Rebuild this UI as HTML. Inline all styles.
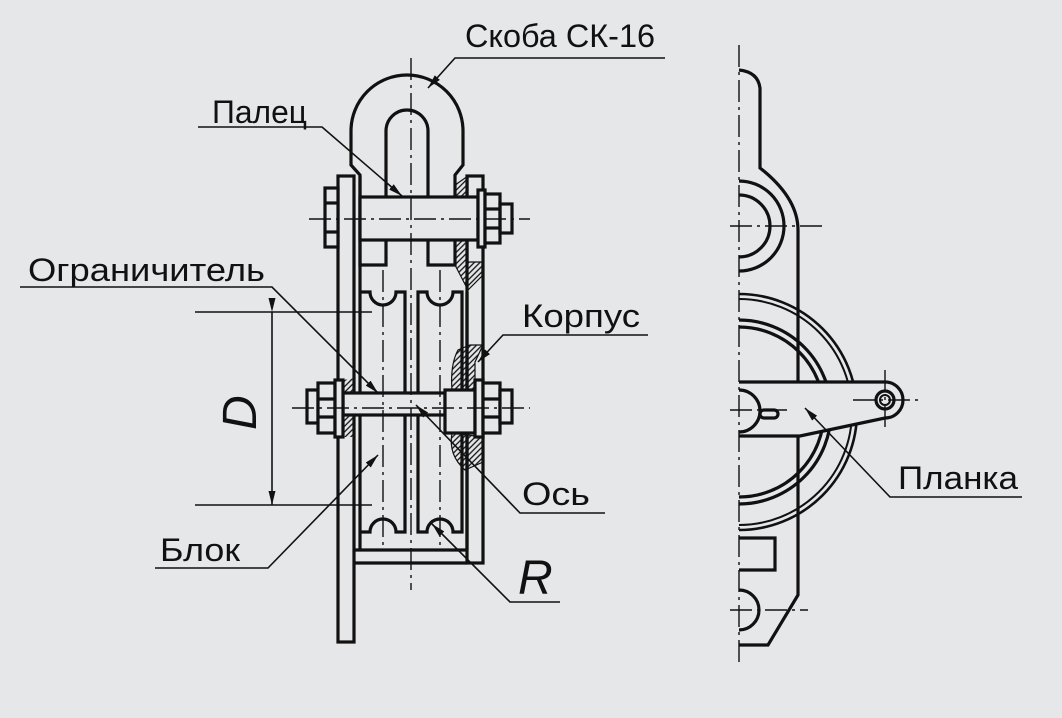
<!DOCTYPE html>
<html><head><meta charset="utf-8"><style>
html,body{margin:0;padding:0;background:#e6e7e9}
svg{display:block}
text{font-family:"Liberation Sans","DejaVu Sans",sans-serif;fill:#111}
</style></head><body>
<svg width="1062" height="718" viewBox="0 0 1062 718" xmlns="http://www.w3.org/2000/svg">
<defs>
<pattern id="h" width="4" height="4" patternUnits="userSpaceOnUse" patternTransform="rotate(45)">
<rect width="4" height="4" fill="#e6e7e9"/><line x1="1" y1="0" x2="1" y2="4" stroke="#111" stroke-width="1.3"/></pattern>
<marker id="a" viewBox="0 0 14 7" refX="14" refY="3.5" markerWidth="14" markerHeight="7" orient="auto" markerUnits="userSpaceOnUse"><path d="M0,0L14,3.5L0,7z" fill="#111"/></marker>
</defs>
<rect width="1062" height="718" fill="#e6e7e9"/>
<g fill="none" stroke="#111" stroke-width="3.2" stroke-linejoin="miter">
<!-- hatched -->
<path d="M455,185 L468,176 L468,262 L482,262 L482,276 L468,290 L455,265 Z" fill="url(#h)" stroke="#111" stroke-width="1.2"/>
<path d="M458,350 Q450,365 452,390 L475,390 L475,362 L483,345 L470,345 Z" fill="url(#h)" stroke="#111" stroke-width="1.2"/>
<path d="M452,433 Q448,455 465,470 L483,462 L483,437 Z" fill="url(#h)" stroke="#111" stroke-width="1.2"/>
<path d="M343,380 L355,378 L355,437 L343,437 Z" fill="url(#h)" stroke="none"/>
<!-- shackle -->
<path d="M351,165 L351,131 A56,56 0 0 1 463,131 L463,165 L455,175 L455,265 L428,265 L428,131 A21,21 0 0 0 386,131 L386,265 L360,265 L360,175 Z" fill="#e6e7e9"/>
<!-- plates -->
<rect x="338" y="176" width="16" height="466"/>
<line x1="360" y1="176" x2="360" y2="550"/>
<rect x="467" y="176" width="16" height="387"/>
<path d="M354,550 L467,550 M354,563 L467,563"/>
<!-- pin -->
<rect x="360" y="197" width="118" height="43" fill="#e6e7e9"/>
<rect x="325" y="188" width="13" height="59" fill="#e6e7e9"/>
<line x1="325" y1="203" x2="338" y2="203"/><line x1="325" y1="232" x2="338" y2="232"/>
<rect x="478" y="190" width="7" height="57" fill="#e6e7e9"/>
<rect x="485" y="194" width="15" height="49" fill="#e6e7e9"/>
<line x1="485" y1="209" x2="500" y2="209"/><line x1="485" y1="228" x2="500" y2="228"/>
<rect x="500" y="204" width="12" height="29"/>
<!-- sheaves -->
<path d="M360,292 L370,292 A13,13 0 0 0 396,292 L405,292 L405,532 L396,532 A13,13 0 0 0 370,532 L360,532"/>
<path d="M418,292 L427,292 A13,13 0 0 0 453,292 L462,292 L462,532 L453,532 A13,13 0 0 0 427,532 L418,532 Z"/>
<line x1="467" y1="292" x2="467" y2="550"/>
<!-- axle -->
<rect x="343" y="393" width="102" height="22" fill="#e6e7e9"/>
<rect x="445" y="390" width="30" height="43" fill="#e6e7e9"/>
<rect x="307" y="390" width="11" height="33" fill="#e6e7e9"/>
<rect x="318" y="383" width="17" height="50" fill="#e6e7e9"/>
<line x1="318" y1="399" x2="335" y2="399"/><line x1="318" y1="417" x2="335" y2="417"/>
<rect x="335" y="380" width="8" height="57" fill="#e6e7e9"/>
<rect x="475" y="380" width="8" height="57" fill="#e6e7e9"/>
<rect x="483" y="383" width="17" height="50" fill="#e6e7e9"/>
<line x1="483" y1="399" x2="500" y2="399"/><line x1="483" y1="417" x2="500" y2="417"/>
<rect x="500" y="390" width="12" height="33" fill="#e6e7e9"/>
<!-- right view -->
<path d="M739,70 Q758,72 760,88 L760,168 L765,172 Q798,200 798,230 L798,595 L768,645 L739,645"/>
<path d="M739,181 A45,45 0 0 1 739,271 M739,195 A31,31 0 0 1 739,257"/>
<path d="M739,294 A118,118 0 0 1 739,530" stroke-width="2.6"/>
<path d="M739,299 A113,113 0 0 1 739,525" stroke-width="2"/>
<path d="M739,320 A92,92 0 0 1 739,504 M739,327 A85,85 0 0 1 739,497"/>
<path d="M739,382 L885,382 A18,18 0 0 1 885,418 L800,436 L739,436" fill="#e6e7e9"/>
<circle cx="885" cy="400" r="9"/><circle cx="885" cy="400" r="5" stroke-width="2"/>
<path d="M739,390 A21,21 0 0 1 739,432"/>
<rect x="760" y="410" width="18" height="8" rx="4"/>
<path d="M739,538 L775,538 L775,570 L739,570"/>
<path d="M739,590 A20,20 0 0 1 739,630"/>
</g>
<!-- center lines -->
<g stroke="#111" stroke-width="1.4" fill="none" stroke-dasharray="22,5,3,5">
<line x1="411" y1="58" x2="411" y2="590"/>
<line x1="383" y1="270" x2="383" y2="545"/>
<line x1="440" y1="270" x2="440" y2="545"/>
<line x1="309" y1="219" x2="530" y2="219"/>
<line x1="292" y1="408" x2="530" y2="408"/>
<line x1="739" y1="45" x2="739" y2="665"/>
<line x1="730" y1="226" x2="822" y2="226"/>
<line x1="730" y1="410" x2="790" y2="410"/>
<line x1="853" y1="400" x2="920" y2="400"/>
<line x1="885" y1="370" x2="885" y2="432"/>
<line x1="730" y1="610" x2="808" y2="610"/>
</g>
<!-- leaders -->
<g stroke="#111" stroke-width="1.6" fill="none">
<path d="M665,58 L455,58 L428,88" marker-end="url(#a)"/>
<path d="M198,127 L322,127 L402,196" marker-end="url(#a)"/>
<path d="M20,287 L272,287 L378,393" marker-end="url(#a)"/>
<path d="M648,335 L503,335 L478,362" marker-end="url(#a)"/>
<path d="M605,513 L520,513 L416,405" marker-end="url(#a)"/>
<path d="M155,568 L268,568 L378,455" marker-end="url(#a)"/>
<path d="M560,602 L510,602 L432,524" marker-end="url(#a)"/>
<path d="M1022,497 L890,497 L805,408" marker-end="url(#a)"/>
<path d="M195,312 L372,312 M195,505 L372,505"/>
<path d="M272,312 L272,505" marker-start="url(#a)" marker-end="url(#a)"/>
</g>
<g font-size="32">
<text x="465" y="47" textLength="190" lengthAdjust="spacingAndGlyphs">Скоба СК-16</text>
<text x="212" y="123" textLength="95" lengthAdjust="spacingAndGlyphs">Палец</text>
<text x="28" y="281" textLength="237" lengthAdjust="spacingAndGlyphs">Ограничитель</text>
<text x="522" y="327" textLength="118" lengthAdjust="spacingAndGlyphs">Корпус</text>
<text x="522" y="505" textLength="68" lengthAdjust="spacingAndGlyphs">Ось</text>
<text x="160" y="561" textLength="80" lengthAdjust="spacingAndGlyphs">Блок</text>
<text x="898" y="489" textLength="120" lengthAdjust="spacingAndGlyphs">Планка</text>
</g>
<text x="518" y="594" font-size="48" font-style="italic">R</text>
<text transform="translate(256,430) rotate(-90)" font-size="48" font-style="italic">D</text>
</svg>
</body></html>
